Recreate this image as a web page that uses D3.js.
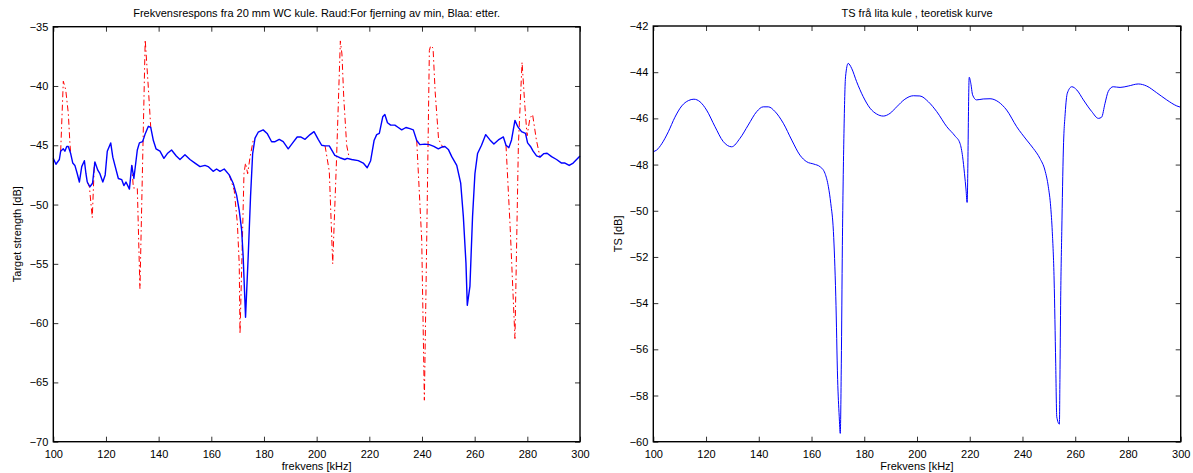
<!DOCTYPE html>
<html><head><meta charset="utf-8">
<script src="https://cdn.jsdelivr.net/npm/d3@7"></script>
<style>
body{margin:0;background:#fff;}
svg text{font-family:"Liberation Sans",Arial,Helvetica,sans-serif;fill:#000;}
</style></head>
<body><svg id="c" width="1193" height="473"></svg>
<script>
// ---- Left panel: measured response (blue = after, red = before removal of min) ----
const blueFreq = [100,101,102.3,102.8,103.8,104.4,105.1,105.7,106.6,107.4,108.2,109.1,109.9,110.8,111.8,112.4,112.9,113.9,114.9,115.8,116.9,117.7,118.8,119.7,120.5,121.8,122.6,123.4,124.7,126,126.8,127.6,128.9,129.8,130.6,131.9,132.7,133.9,134.8,136.1,137,138,139,140.5,142,143.3,144.9,146.7,148.1,150,151.9,153.8,155.7,157.6,158.8,160.7,162,163.3,164.9,166.8,168.3,169.6,170.6,171.5,172.1,173,174,174.9,175.7,176.6,177.8,179.7,181.2,182.9,184.2,185.8,187.3,189.2,190.9,192.6,193.9,195.6,197.5,199,200.6,201.9,203.2,204.8,206.9,208.8,210.7,211.6,213.3,215.8,217.7,219.2,220.5,221.8,222.8,223.8,225.1,225.9,226.9,228.1,229.7,231,232.3,233.9,235.4,236.7,238,239.2,241.1,242.8,244.5,246.2,247.5,248.7,250,251.3,253.2,254.7,255.7,256.7,257.2,258.2,259.2,260.1,261.1,262.6,264.2,265.8,267.3,269,270.9,271.9,273,274,275.3,276.3,277.8,279.3,280.1,281.2,282.2,283.5,284.8,286.3,287.5,289.2,291.1,293,294.3,295.9,297.4,298.7,300];
const blueTS = [-46.1,-46.6,-46.2,-45.5,-45.3,-45.5,-45.1,-45.1,-45.7,-46.5,-46.7,-47.4,-48.1,-46.8,-46.3,-47.4,-48.1,-48.5,-48.2,-46.4,-47.1,-47.4,-48.1,-47.5,-45.5,-44.8,-46.0,-46.7,-47.8,-47.9,-48.4,-48.1,-48.7,-46.7,-47.8,-45.4,-44.8,-44.7,-44.1,-43.4,-43.5,-44.6,-45.3,-45.5,-46.1,-45.7,-45.4,-45.9,-46.2,-45.8,-46.2,-46.5,-46.8,-46.7,-46.8,-47.2,-47.0,-47.2,-47.0,-47.5,-48.2,-49.2,-50.5,-52.1,-54.4,-59.5,-54.4,-49.3,-45.7,-44.4,-43.9,-43.7,-44.0,-44.7,-44.7,-44.5,-44.7,-45.3,-44.8,-44.3,-44.3,-44.5,-44.1,-43.85,-44.5,-45.0,-45.05,-45.05,-45.85,-46.05,-46.2,-46.1,-46.2,-46.3,-46.5,-46.9,-46.3,-44.6,-44.1,-44.0,-42.6,-42.4,-43.1,-43.3,-43.3,-43.5,-43.7,-43.5,-43.6,-43.7,-44.6,-44.95,-44.9,-44.95,-45.1,-45.3,-45.15,-45.1,-45.35,-45.96,-46.7,-48.2,-51.0,-54.95,-58.5,-56.9,-51.0,-47.4,-45.7,-45.0,-44.1,-44.55,-44.9,-44.55,-44.3,-45.0,-45.2,-44.55,-42.9,-43.4,-43.85,-44.0,-44.8,-45.1,-45.5,-45.9,-46.0,-45.7,-45.67,-45.96,-46.2,-46.5,-46.5,-46.7,-46.5,-46.2,-45.9];
// red curve: only where it departs from the blue one (null = gap)
const redFreq = [102.8,103.8,104.7,105.7,106.3,106.6,null,
  112.9,113.7,114.8,115.6,115.8,null,
  129.8,130.4,131.9,132.9,134.9,136.1,137.0,null,
  166.8,168.7,169.9,170.6,170.9,171.9,172.4,173.0,173.8,174.7,175.9,176.6,null,
  203.2,204.8,206.1,207.5,209.0,209.6,210.3,211.4,212.4,null,
  238.0,239.9,240.9,241.6,242.8,243.3,244.2,245.0,246.3,248.0,null,
  271.9,273.5,275.3,276.6,278.0,279.1,279.9,281.0,282.0,283.4,284.8];
const redTS = [-45.5,-39.6,-40.3,-42.3,-44.8,-45.7,null,
  -48.1,-48.5,-51.1,-46.5,-46.4,null,
  -46.7,-48.6,-48.6,-57.1,-36.1,-40.2,-43.5,null,
  -47.5,-48.8,-51.6,-55.0,-60.9,-52.1,-47.4,-46.5,-47.4,-46.0,-44.6,-44.4,null,
  -45.05,-47.2,-55.0,-46.5,-36.2,-37.3,-41.0,-45.0,-46.1,null,
  -44.6,-53.0,-66.5,-56.0,-37.0,-36.6,-36.8,-40.5,-44.5,-45.2,null,
  -45.0,-52.0,-61.3,-45.0,-38.0,-41.8,-44.2,-42.7,-42.4,-44.5,-46.0];
const leftXTicks = [100,120,140,160,180,200,220,240,260,280,300];
const leftYTicks = [-70,-65,-60,-55,-50,-45,-40,-35];

// ---- Right panel: theoretical TS ----
const theoFreq = [100,101.3,103.2,105.7,108.2,110.8,113.3,115.4,117.7,120.2,123.4,126.5,129.7,132.9,136,139.2,141.7,143.6,146.2,149.3,152.5,155.6,158.2,160.9,163.2,165.1,166.4,167.3,168.3,169.2,169.9,170.5,170.9,171.3,171.7,172.3,172.9,173.9,175.2,177.1,179.6,182.2,184.7,187.2,189.8,192.3,195.4,198.6,201.1,204.3,207.5,211.3,214.4,216.3,217.3,218,218.6,219,219.8,220.4,221.1,222.6,225.1,227.7,230.8,234,237.8,241.6,244.1,246.6,248.5,249.8,250.7,251.3,252,252.6,253,254,254.2,254.5,254.9,255.5,256.2,257,258.7,260.6,263.1,266.3,268.8,270,271.3,272.5,274.4,277,280.1,283.9,287.1,290.9,294.7,298.5,300];
const theoTS = [-47.44,-47.37,-47.1,-46.58,-45.95,-45.46,-45.23,-45.17,-45.28,-45.64,-46.36,-47.0,-47.23,-46.86,-46.29,-45.71,-45.5,-45.5,-45.71,-46.21,-46.94,-47.59,-47.88,-47.98,-48.09,-48.38,-48.96,-49.68,-50.9,-53.7,-57.3,-58.9,-59.64,-56.6,-51.5,-46.65,-44.2,-43.62,-43.83,-44.41,-45.06,-45.56,-45.81,-45.9,-45.78,-45.5,-45.17,-45.02,-45.03,-45.28,-45.71,-46.36,-46.76,-47.08,-47.66,-48.38,-49.1,-49.64,-44.22,-44.48,-44.99,-45.2,-45.16,-45.15,-45.28,-45.64,-46.36,-46.94,-47.3,-47.73,-48.24,-48.96,-49.83,-50.9,-53.0,-56.6,-58.92,-59.24,-57.3,-53.7,-50.9,-47.37,-45.78,-44.91,-44.63,-44.77,-45.2,-45.71,-46.0,-45.95,-45.35,-44.84,-44.63,-44.66,-44.6,-44.51,-44.6,-44.89,-45.2,-45.46,-45.52];
const rightXTicks = [100,120,140,160,180,200,220,240,260,280,300];
const rightYTicks = [-60,-58,-56,-54,-52,-50,-48,-46,-44,-42];

const fmt = v => String(v).replace('-', '\u2212');
const svg = d3.select('#c');

function panel(o){
  const g = svg.append('g');
  const x = d3.scaleLinear().domain([100,300]).range([o.x0,o.x1]);
  const y = d3.scaleLinear().domain(o.ydom).range([o.y1,o.y0]);
  // data
  o.draw(g,x,y);
  // axes with inward ticks on all sides
  const axStyle = sel => { sel.select('.domain').remove();
    sel.selectAll('.tick line').attr('stroke','#000').attr('stroke-width',0.8);
    sel.selectAll('text').style('font-size','11px').attr('fill','#000'); };
  g.append('g').attr('transform',`translate(0,${o.y1})`)
    .call(d3.axisBottom(x).tickValues(o.xt).tickSizeInner(-5).tickSizeOuter(0).tickPadding(9).tickFormat(fmt)).call(axStyle);
  g.append('g').attr('transform',`translate(0,${o.y0})`)
    .call(d3.axisTop(x).tickValues(o.xt).tickSizeInner(-5).tickSizeOuter(0).tickFormat('')).call(axStyle);
  g.append('g').attr('transform',`translate(${o.x0},0)`)
    .call(d3.axisLeft(y).tickValues(o.yt).tickSizeInner(-5).tickSizeOuter(0).tickPadding(5).tickFormat(fmt)).call(axStyle);
  g.append('g').attr('transform',`translate(${o.x1},0)`)
    .call(d3.axisRight(y).tickValues(o.yt).tickSizeInner(-5).tickSizeOuter(0).tickFormat('')).call(axStyle);
  g.append('rect').attr('x',o.x0).attr('y',o.y0).attr('width',o.x1-o.x0).attr('height',o.y1-o.y0)
    .attr('fill','none').attr('stroke','#000').attr('stroke-width',1.4);
  const cx=(o.x0+o.x1)/2;
  g.append('text').attr('x',cx).attr('y',17).attr('text-anchor','middle').style('font-size','11px').text(o.title);
  g.append('text').attr('x',cx).attr('y',o.y1+28).attr('text-anchor','middle').style('font-size','11px').text(o.xlab);
  g.append('text').attr('transform',`translate(${o.ylx},${(o.y0+o.y1)/2}) rotate(-90)`).attr('text-anchor','middle').style('font-size','11px').text(o.ylab);
}

panel({x0:53.3,x1:580,y0:26.7,y1:441.7,ydom:[-70,-35],xt:leftXTicks,yt:leftYTicks,
  title:'Frekvensrespons fra 20 mm WC kule. Raud:For fjerning av min, Blaa: etter.',
  xlab:'frekvens [kHz]', ylab:'Target strength [dB]', ylx:21,
  draw:(g,x,y)=>{
    const red = redFreq.map((f,i)=>[f,redTS[i]]);
    g.append('path').datum(red)
      .attr('d',d3.line().defined(d=>d[0]!==null).x(d=>x(d[0])).y(d=>y(d[1])))
      .attr('fill','none').attr('stroke','#ff0000').attr('stroke-width',1)
      .attr('stroke-dasharray','6,3,1.5,3');
    const blue = blueFreq.map((f,i)=>[f,blueTS[i]]);
    g.append('path').datum(blue)
      .attr('d',d3.line().x(d=>x(d[0])).y(d=>y(d[1])))
      .attr('fill','none').attr('stroke','#0000ff').attr('stroke-width',1.4).attr('stroke-linejoin','round');
  }});

panel({x0:653.3,x1:1180.7,y0:26,y1:441.7,ydom:[-60,-42],xt:rightXTicks,yt:rightYTicks,
  title:'TS frå lita kule , teoretisk kurve',
  xlab:'Frekvens [kHz]', ylab:'TS [dB]', ylx:622,
  draw:(g,x,y)=>{
    const th = theoFreq.map((f,i)=>[f,theoTS[i]]);
    g.append('path').datum(th)
      .attr('d',d3.line().curve(d3.curveMonotoneX).x(d=>x(d[0])).y(d=>y(d[1])))
      .attr('fill','none').attr('stroke','#0000ff').attr('stroke-width',1);
  }});
</script></body></html>
